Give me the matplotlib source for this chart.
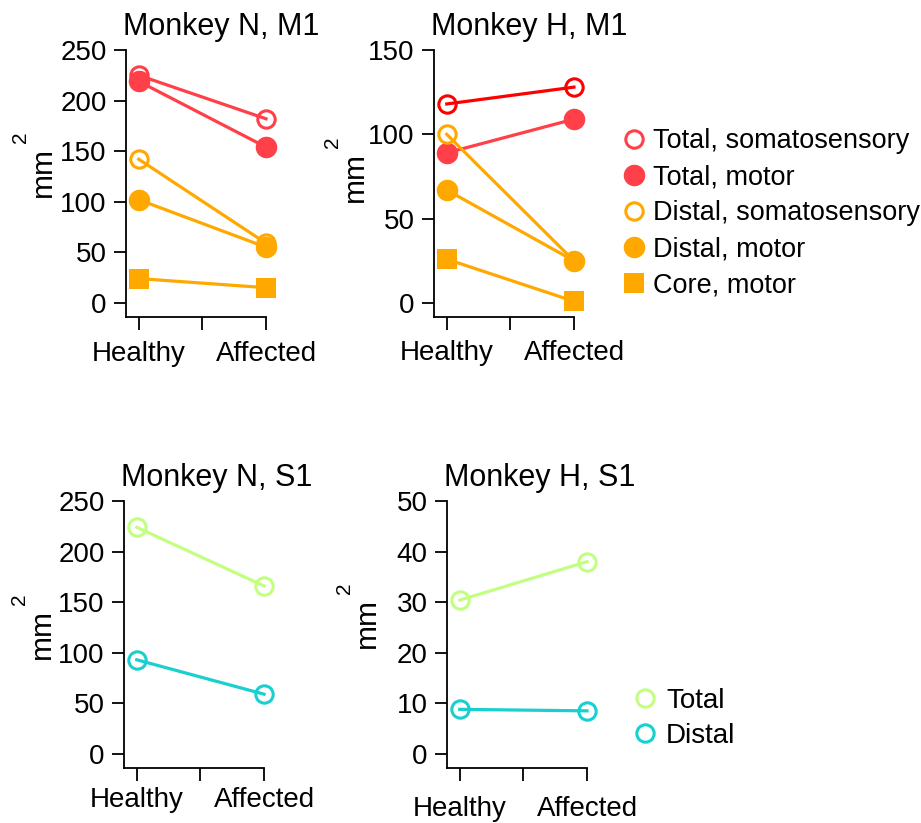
import matplotlib
matplotlib.use("Agg")
import matplotlib.pyplot as plt
from matplotlib.lines import Line2D

plt.rcParams['font.family'] = ['Liberation Sans', 'DejaVu Sans']

conditions = ['Healthy', 'Affected']

# Monkey N, M1
n_m1_total_ss = [225, 182]
n_m1_total_motor = [219, 154]
n_m1_distal_ss = [142, 59]
n_m1_distal_motor = [102, 55]
n_m1_core_motor = [24, 15]

# Monkey H, M1
h_m1_total_ss = [118, 128]
h_m1_total_motor = [89, 109]
h_m1_distal_ss = [100, 25]
h_m1_distal_motor = [67, 25]
h_m1_core_motor = [26, 1]

# Monkey N, S1
n_s1_total = [224, 166]
n_s1_distal = [93, 59]

# Monkey H, S1
h_s1_total = [30.4, 38]
h_s1_distal = [8.8, 8.5]

RED = '#ff4048'
PURE_RED = '#ff0000'
ORANGE = '#ffa800'
GREEN = '#c2ff80'
CYAN = '#19cfcf'

W, H = 921, 823
fig = plt.figure(figsize=(W / 100, H / 100), dpi=100)

def make_ax(left, top, right, bottom):
    return fig.add_axes([left / W, (H - bottom) / H, (right - left) / W, (bottom - top) / H])

# (left, top, right, bottom) in pixels
boxes = {
    'tl': (126, 50, 266, 317),
    'tr': (434, 50, 574, 317),
    'bl': (124, 501, 264, 768),
    'br': (447, 501, 587, 768),
}
ax_tl = make_ax(*boxes['tl'])
ax_tr = make_ax(*boxes['tr'])
ax_bl = make_ax(*boxes['bl'])
ax_br = make_ax(*boxes['br'])

xpos = [0, 1]
LW = 2.3
MS_FILL = 15.5
MS_OPEN = 12.5
MEW = 2.2

def open_line(ax, vals, color):
    ax.plot(xpos, vals, color=color, lw=LW, marker='o', ms=MS_OPEN,
            mfc='none', mec=color, mew=MEW, clip_on=False, zorder=3)

def filled_line(ax, vals, color, marker='o'):
    ms = MS_FILL if marker == 'o' else 14.5
    ax.plot(xpos, vals, color=color, lw=LW, marker=marker, ms=ms,
            mfc=color, mec=color, mew=0, clip_on=False, zorder=3)

open_line(ax_tl, n_m1_total_ss, RED)
filled_line(ax_tl, n_m1_total_motor, RED)
open_line(ax_tl, n_m1_distal_ss, ORANGE)
filled_line(ax_tl, n_m1_distal_motor, ORANGE)
filled_line(ax_tl, n_m1_core_motor, ORANGE, 's')

open_line(ax_tr, h_m1_total_ss, PURE_RED)
filled_line(ax_tr, h_m1_total_motor, RED)
open_line(ax_tr, h_m1_distal_ss, ORANGE)
filled_line(ax_tr, h_m1_distal_motor, ORANGE)
filled_line(ax_tr, h_m1_core_motor, ORANGE, 's')

open_line(ax_bl, n_s1_total, GREEN)
open_line(ax_bl, n_s1_distal, CYAN)

open_line(ax_br, h_s1_total, GREEN)
open_line(ax_br, h_s1_distal, CYAN)

# axes, key, title, ylim, yticks, xtick pad (pt), ylabel offsets (dx, dy from axes left/top in px)
setup = [
    (ax_tl, 'tl', 'Monkey N, M1', (-14, 250), [0, 50, 100, 150, 200, 250], 8.5, (-75, 122)),
    (ax_tr, 'tr', 'Monkey H, M1', (-8.3, 150), [0, 50, 100, 150], 7.5, (-71, 127)),
    (ax_bl, 'bl', 'Monkey N, S1', (-14, 250), [0, 50, 100, 150, 200, 250], 5, (-74, 133)),
    (ax_br, 'br', 'Monkey H, S1', (-2.8, 50), [0, 10, 20, 30, 40, 50], 11, (-72, 122)),
]
for ax, key, title, ylim, yt, xpad, (ldx, ldy) in setup:
    ax.set_xlim(-0.1, 1.0)
    ax.set_ylim(*ylim)
    ax.set_yticks(yt)
    ax.set_xticks([0, 0.5, 1])
    ax.set_xticklabels([conditions[0], '', conditions[1]])
    for s in ['top', 'right']:
        ax.spines[s].set_visible(False)
    for s in ['left', 'bottom']:
        ax.spines[s].set_linewidth(1.3)
    ax.tick_params(axis='both', which='major', labelsize=20, length=9, width=1.3)
    ax.tick_params(axis='y', pad=5)
    ax.tick_params(axis='x', pad=xpad)
    ax.set_title(title, fontsize=22, loc='left', pad=11, x=-0.02)
    ax.patch.set_alpha(0)
    left, top, right, bottom = boxes[key]
    # y-axis unit label: "mm" with a raised "2"
    mx, my = left + ldx, top + ldy
    fig.text(mx / W, (H - my) / H, 'mm', fontsize=21.5, rotation=90,
             rotation_mode='anchor', ha='center', va='baseline')
    sx, sy = mx - 25, my - 35
    fig.text(sx / W, (H - sy) / H, '2', fontsize=15, rotation=90,
             rotation_mode='anchor', ha='center', va='baseline')

top_handles = [
    Line2D([], [], ls='none', marker='o', ms=MS_OPEN, mfc='none', mec=RED, mew=MEW),
    Line2D([], [], ls='none', marker='o', ms=MS_FILL, mfc=RED, mec=RED, mew=0),
    Line2D([], [], ls='none', marker='o', ms=MS_OPEN, mfc='none', mec=ORANGE, mew=MEW),
    Line2D([], [], ls='none', marker='o', ms=MS_FILL, mfc=ORANGE, mec=ORANGE, mew=0),
    Line2D([], [], ls='none', marker='s', ms=14.5, mfc=ORANGE, mec=ORANGE, mew=0),
]
top_labels = ['Total, somatosensory', 'Total, motor', 'Distal, somatosensory',
              'Distal, motor', 'Core, motor']
fig.legend(top_handles, top_labels, loc='upper left',
           bbox_to_anchor=(623 / W, (H - 128) / H), frameon=False,
           fontsize=19.5, handlelength=0.8, handletextpad=0.3,
           labelspacing=0.37, borderpad=0, borderaxespad=0)

bot_handles = [
    Line2D([], [], ls='none', marker='o', ms=MS_OPEN, mfc='none', mec=GREEN, mew=MEW),
    Line2D([], [], ls='none', marker='o', ms=MS_OPEN, mfc='none', mec=CYAN, mew=MEW),
]
fig.legend(bot_handles, ['Total', 'Distal'], loc='upper left',
           bbox_to_anchor=(634 / W, (H - 688) / H), frameon=False,
           fontsize=20, handlelength=0.8, handletextpad=0.35,
           labelspacing=0.32, borderpad=0, borderaxespad=0)

fig.savefig('out.png', dpi=100)
